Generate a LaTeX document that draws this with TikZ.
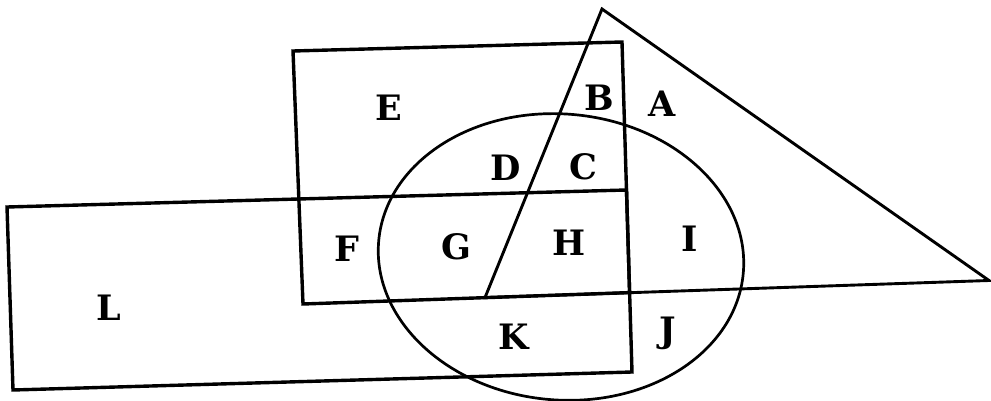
\documentclass[tikz,border=0pt]{standalone}
\usepackage{fontspec}
\setmainfont{DejaVu Serif}
\begin{document}
\begin{tikzpicture}[x=1pt,y=-1pt,
  boxline/.style={line width=3.4pt,line join=miter},
  triline/.style={line width=2.9pt,line join=miter},
  ovalline/.style={line width=2.7pt},
  lbl/.style={inner sep=0pt,anchor=center,font=\fontsize{35}{40}\selectfont\bfseries}]
\useasboundingbox[fill=white] (0,0) rectangle (991,401);
% upper rectangle
\coordinate (u1) at (293,51);
\coordinate (u2) at (622,42);
\coordinate (u3) at (629.6,292.6);
\coordinate (u4) at (303,304);
% lower (L) rectangle
\coordinate (l1) at (7,207);
\coordinate (l2) at (626.5,190);
\coordinate (l3) at (632,372);
\coordinate (l4) at (13,390);
% triangle
\coordinate (t1) at (602,9);
\coordinate (t2) at (485,297.6);
\coordinate (t3) at (989,280.5);
% ellipse centre
\coordinate (oc) at (561,257);
\draw[boxline] (u1) -- (u2) -- (u3) -- (u4) -- cycle;
\draw[boxline] (l1) -- (l2) -- (l3) -- (l4) -- cycle;
\draw[triline] (t1) -- (t2) -- (t3) -- cycle;
\draw[ovalline,rotate around={-5:(oc)}] (oc) ellipse [x radius=183pt,y radius=143pt];
\node[lbl] (A) at (662,104) {A};
\node[lbl] (B) at (599,98) {B};
\node[lbl] (C) at (583,167) {C};
\node[lbl] (D) at (506,168) {D};
\node[lbl] (E) at (389,108) {E};
\node[lbl] (F) at (347,249) {F};
\node[lbl] (G) at (456,247) {G};
\node[lbl] (H) at (569,243) {H};
\node[lbl] (I) at (690,239) {I};
\node[lbl] (J) at (668,333) {J};
\node[lbl] (K) at (514,337) {K};
\node[lbl] (L) at (109,308) {L};
\end{tikzpicture}
\end{document}
